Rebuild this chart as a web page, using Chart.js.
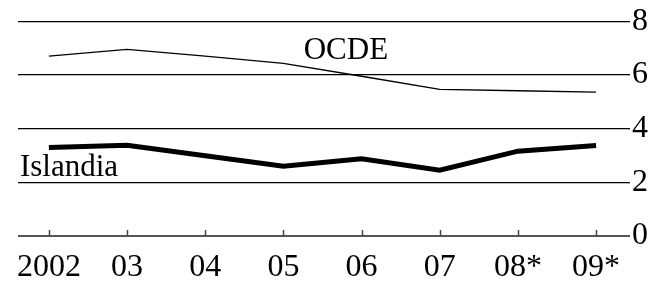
<!DOCTYPE html>
<html>
<head>
<meta charset="utf-8">
<script src="https://cdn.jsdelivr.net/npm/chart.js@4/dist/chart.umd.min.js"></script>
<style>
  html, body { margin: 0; padding: 0; background: #fff; }
  #wrap { width: 666px; height: 285px; }
</style>
</head>
<body>
<div id="wrap"><canvas id="lineGraph"></canvas></div>
<script>
// years and what goes under each one
let anos = [2002, 2003, 2004, 2005, 2006, 2007, 2008, 2009]
let rotulos = ['2002', '03', '04', '05', '06', '07', '08*', '09*']

// values
let ocde = [6.7, 6.95, 6.7, 6.43, 5.95, 5.46, 5.41, 5.36]
let islandia = [3.3, 3.38, 2.99, 2.6, 2.88, 2.45, 3.16, 3.37]

let eixoY = [0, 2, 4, 6, 8]

const fonte = "'Liberation Serif', 'Times New Roman', serif"

/* series names written beside the lines, anchored through the scales */
const nomes = {
    id: 'nomes',
    afterDatasetsDraw(chart) {
        const { ctx, scales: { x, y } } = chart
        ctx.save()
        ctx.fillStyle = '#000'
        ctx.font = '31px ' + fonte
        ctx.textBaseline = 'alphabetic'
        ctx.textAlign = 'left'
        ctx.fillText('OCDE', x.getPixelForValue(2005.26), y.getPixelForValue(6.59))
        ctx.fillText('Islandia', x.getPixelForValue(2001.63), y.getPixelForValue(2.25))
        ctx.restore()
    }
}

/* small upward ticks on the zero line */
const marcas = {
    id: 'marcas',
    afterDraw(chart) {
        const { ctx, scales: { x, y } } = chart
        const base = y.getPixelForValue(0)
        ctx.save()
        ctx.strokeStyle = '#444'
        ctx.lineWidth = 1.5
        anos.forEach(a => {
            const px = Math.round(x.getPixelForValue(a)) + 0.5
            ctx.beginPath()
            ctx.moveTo(px, base)
            ctx.lineTo(px, base - 6)
            ctx.stroke()
        })
        ctx.restore()
    }
}

let dados = {
    datasets: [
        {
            label: 'OCDE',
            data: anos.map((a, i) => ({ x: a, y: ocde[i] })),
            borderColor: '#000',
            borderWidth: 1.4,
            pointRadius: 0,
            tension: 0
        },
        {
            label: 'Islandia',
            data: anos.map((a, i) => ({ x: a, y: islandia[i] })),
            borderColor: '#000',
            borderWidth: 5,
            pointRadius: 0,
            tension: 0,
            borderJoinStyle: 'miter'
        }
    ]
}

let opcoes = {
    responsive: true,
    maintainAspectRatio: false,
    animation: false,
    layout: { padding: { left: 18, right: 16, top: 14.5, bottom: 0 } },
    plugins: {
        legend: { display: false },
        tooltip: { enabled: false }
    },
    scales: {
        x: {
            type: 'linear',
            min: 2001.605,
            max: 2009.37,
            afterBuildTicks: axis => { axis.ticks = anos.map(v => ({ value: v })) },
            afterFit: axis => { axis.height = 49 },
            grid: { display: false, drawTicks: false },
            border: { display: false },
            ticks: {
                autoSkip: false,
                maxRotation: 0,
                padding: 12,
                color: '#000',
                font: { family: fonte, size: 32, lineHeight: 1.2 },
                callback: (v, i) => rotulos[i]
            }
        },
        y: {
            position: 'right',
            min: 0,
            max: 8,
            afterBuildTicks: axis => { axis.ticks = eixoY.map(v => ({ value: v })) },
            border: { display: false },
            grid: {
                color: c => c.tick && c.tick.value === 0 ? '#555' : '#000',
                lineWidth: c => c.tick && c.tick.value === 0 ? 2 : 1.3,
                tickLength: 5,
                drawTicks: true
            },
            ticks: {
                padding: 2,
                color: '#000',
                font: { family: fonte, size: 32 }
            }
        }
    }
}

let ctx = document.querySelector('#lineGraph').getContext('2d')
let lineChart = new Chart(ctx, {
    type: 'line',
    data: dados,
    options: opcoes,
    plugins: [nomes, marcas]
})
</script>
</body>
</html>
